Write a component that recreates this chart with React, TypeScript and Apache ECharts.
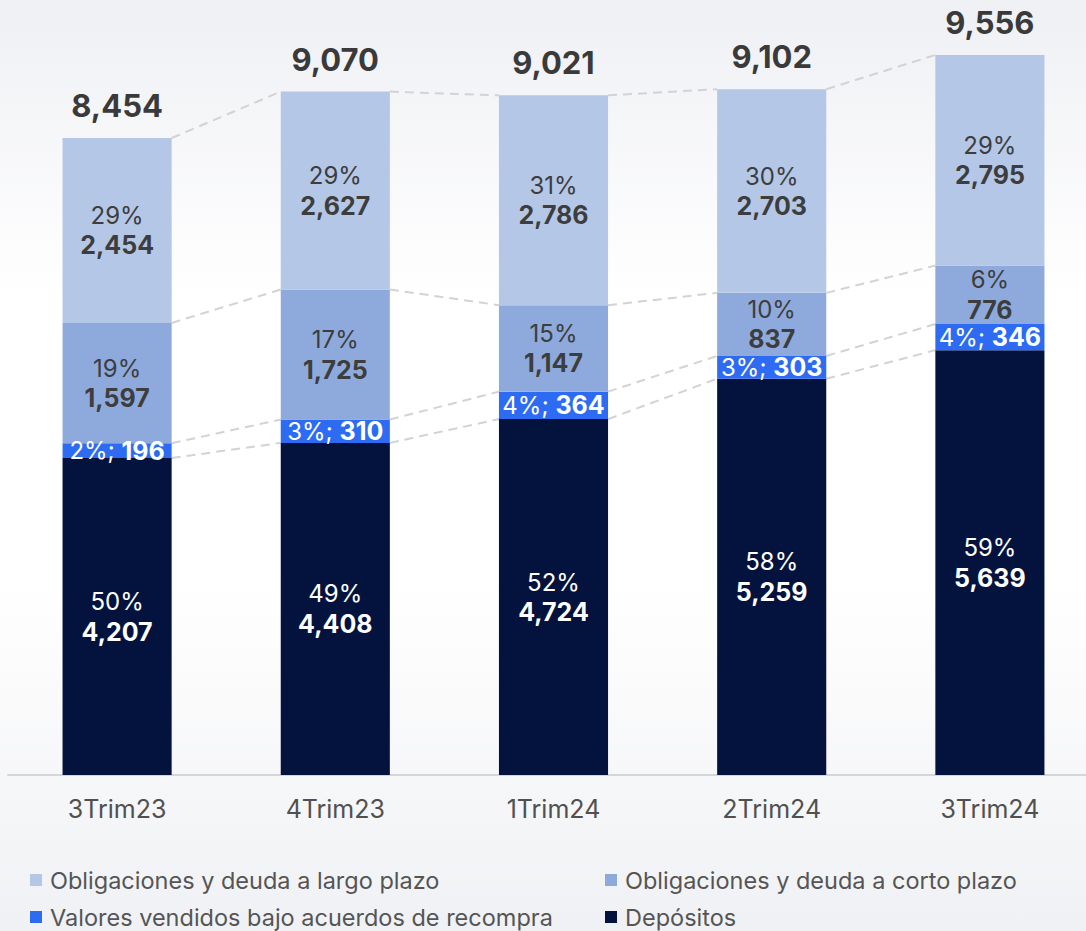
import React, { useEffect, useRef } from "react";
import * as echarts from "echarts";

const categories = ["3Trim23", "4Trim23", "1Trim24", "2Trim24", "3Trim24"];
const depositos = [4207, 4408, 4724, 5259, 5639];
const valores = [196, 310, 364, 303, 346];
const corto = [1597, 1725, 1147, 837, 776];
const largo = [2454, 2627, 2786, 2703, 2795];
const pctDepositos = ["50%", "49%", "52%", "58%", "59%"];
const pctValores = ["2%", "3%", "4%", "3%", "4%"];
const pctCorto = ["19%", "17%", "15%", "10%", "6%"];
const pctLargo = ["29%", "29%", "31%", "30%", "29%"];
const seriesNames = [
  "Obligaciones y deuda a largo plazo",
  "Obligaciones y deuda a corto plazo",
  "Valores vendidos bajo acuerdos de recompra",
  "Depósitos",
];

const fmt = (n: number) => n.toLocaleString("en-US");

export default function App() {
  const ref = useRef<HTMLDivElement>(null);
  useEffect(() => {
    if (!ref.current) return;
    const chart = echarts.init(ref.current, undefined, { renderer: "svg" });
    const totals = categories.map((_, i) => depositos[i] + valores[i] + corto[i] + largo[i]);
    const lvl1 = depositos;
    const lvl2 = depositos.map((v, i) => v + valores[i]);
    const lvl3 = lvl2.map((v, i) => v + corto[i]);
    const lvl4 = totals;
    const connectors: number[][] = [];
    [lvl1, lvl2, lvl3, lvl4].forEach((lv) => {
      for (let i = 0; i < categories.length - 1; i++) connectors.push([i, lv[i], lv[i + 1]]);
    });
    const font = "Inter, 'Noto Sans', sans-serif";
    const twoLine = (pcts: string[], vals: number[], color: string) => ({
      show: true,
      position: "inside",
      formatter: (p: any) => `{p|${pcts[p.dataIndex]}}\n{v|${fmt(vals[p.dataIndex])}}`,
      rich: {
        p: { fontSize: 24, fontFamily: font, color, lineHeight: 30 },
        v: { fontSize: 25, fontWeight: "bold", fontFamily: font, color, lineHeight: 30 },
      },
    });
    const legendBase = {
      orient: "vertical",
      top: 868,
      padding: 0,
      icon: "rect",
      itemWidth: 12,
      itemHeight: 12,
      itemGap: 13,
      textStyle: { fontSize: 23.5, color: "#555555", lineHeight: 24, fontFamily: font, padding: [0, 0, 0, 3] },
    };
    chart.setOption({
      animation: false,
      textStyle: { fontFamily: font },
      grid: { left: 8, width: 1091, top: 55, height: 720, containLabel: false, outerBoundsMode: "none" },
      legend: [
        { ...legendBase, data: [seriesNames[0], seriesNames[2]], left: 30 },
        { ...legendBase, data: [seriesNames[1], seriesNames[3]], left: 605 },
      ],
      xAxis: {
        type: "category",
        data: categories,
        axisLine: { lineStyle: { color: "#d6d6d6", width: 2 } },
        axisTick: { show: false },
        axisLabel: { fontSize: 25, color: "#505050", margin: 21, fontFamily: font },
      },
      yAxis: {
        type: "value",
        min: 0,
        max: Math.max(...totals),
        show: false,
        splitLine: { show: false },
      },
      series: [
        {
          name: seriesNames[3],
          type: "bar",
          stack: "total",
          barWidth: "50%",
          data: depositos,
          itemStyle: { color: "#04133e" },
          label: twoLine(pctDepositos, depositos, "#ffffff"),
        },
        {
          name: seriesNames[2],
          type: "bar",
          stack: "total",
          data: valores,
          itemStyle: { color: "#2d6cf2" },
          label: {
            show: true,
            position: "inside",
            formatter: (p: any) => `{p|${pctValores[p.dataIndex]}; }{v|${fmt(valores[p.dataIndex])}}`,
            rich: {
              p: { fontSize: 24, fontFamily: font, color: "#ffffff" },
              v: { fontSize: 25, fontWeight: "bold", fontFamily: font, color: "#ffffff" },
            },
          },
        },
        {
          name: seriesNames[1],
          type: "bar",
          stack: "total",
          data: corto,
          itemStyle: { color: "#8eaadc" },
          label: twoLine(pctCorto, corto, "#3d3d3d"),
        },
        {
          name: seriesNames[0],
          type: "bar",
          stack: "total",
          data: largo,
          itemStyle: { color: "#b4c7e7" },
          label: twoLine(pctLargo, largo, "#3d3d3d"),
        },
        {
          type: "scatter",
          data: totals,
          symbolSize: 1,
          itemStyle: { color: "rgba(0,0,0,0)", opacity: 1 },
          silent: true,
          label: {
            show: true,
            position: "top",
            distance: 17,
            formatter: (p: any) => fmt(p.value),
            fontSize: 31,
            fontWeight: "bold",
            color: "#3a3a3a",
            lineHeight: 30,
            fontFamily: font,
          },
        },
        {
          type: "custom",
          silent: true,
          data: connectors,
          encode: { x: 0, y: 1 },
          z: 1,
          renderItem: (params: any, api: any) => {
            const i = api.value(0);
            const p1 = api.coord([i, api.value(1)]);
            const p2 = api.coord([i + 1, api.value(2)]);
            const half = api.size([1, 0])[0] * 0.25;
            return {
              type: "line",
              shape: { x1: p1[0] + half, y1: p1[1], x2: p2[0] - half, y2: p2[1] },
              style: { stroke: "#d3d3d3", lineWidth: 2, lineDash: [9, 6], fill: null },
            };
          },
        },
      ],
    });
    return () => chart.dispose();
  }, []);
  return (
    <div
      style={{
        position: "fixed",
        left: 0,
        top: 0,
        width: 1086,
        height: 931,
        background: "linear-gradient(to bottom, #eff0f4 0%, #ffffff 32%, #ffffff 62%, #f0f1f4 100%)",
      }}
    >
      <div ref={ref} style={{ width: 1086, height: 931 }} />
    </div>
  );
}
